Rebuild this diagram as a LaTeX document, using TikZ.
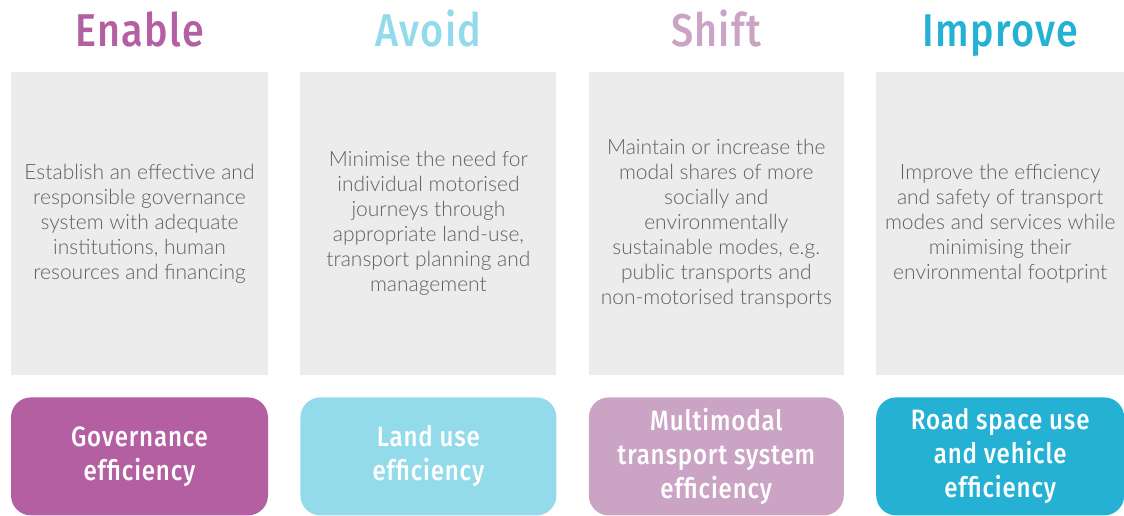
\documentclass[tikz,border=0pt]{standalone}
\usepackage{fontspec}
\usepackage{tikz}
\usetikzlibrary{positioning}
\newfontfamily\bodyfont{Lato Light}
\newfontfamily\headfont{Fira Sans Medium}[FakeStretch=0.86,LetterSpace=3]
\definecolor{enablec}{HTML}{B35FA2}
\definecolor{avoidc}{HTML}{93DBEB}
\definecolor{shiftc}{HTML}{CAA3C5}
\definecolor{improvec}{HTML}{24B1D3}
\definecolor{panelgray}{HTML}{ECECEC}
\definecolor{bodygray}{HTML}{606060}

\begin{document}
\begin{tikzpicture}[
    x=1pt,y=1pt,
    node distance=32pt,
    pillar/.style={fill=panelgray,minimum height=303pt,inner sep=0pt,align=center,text=bodygray,font=\bodyfont\fontsize{21}{25}\selectfont},
    head/.style={anchor=base,inner sep=0pt,font=\headfont\fontsize{46}{46}\selectfont},
    outcome/.style={rounded corners=20pt,minimum height=118pt,inner sep=0pt,align=center,text=white,font=\headfont\fontsize{28}{34}\selectfont}
]
    \useasboundingbox (0,0) rectangle (1124,516);
    \coordinate (headline) at (0,469);

    % grey pillars
    \node[pillar,minimum width=257pt] (pEnable) at (139.5,292.5) {Establish an effective and\\responsible governance\\system with adequate\\institutions, human\\resources and financing};
    \node[pillar,minimum width=256pt,right=of pEnable] (pAvoid) {Minimise the need for\\individual motorised\\journeys through\\appropriate land-use,\\transport planning and\\management};
    \node[pillar,minimum width=255pt,right=of pAvoid] (pShift) {Maintain or increase the\\modal shares of more\\socially and\\environmentally\\sustainable modes, e.g.\\public transports and\\non-motorised transports};
    \node[pillar,minimum width=248pt,right=of pShift] (pImprove) {Improve the efficiency\\and safety of transport\\modes and services while\\minimising their\\environmental footprint};

    % headings
    \node[head,text=enablec] (hEnable) at (pEnable.north |- headline) {Enable};
    \node[head,text=avoidc] (hAvoid) at (pAvoid.north |- headline) {Avoid};
    \node[head,text=shiftc] (hShift) at (pShift.north |- headline) {Shift};
    \node[head,text=improvec] (hImprove) at (pImprove.north |- headline) {Improve};

    % coloured outcome boxes
    \node[outcome,fill=enablec,minimum width=257pt,below=22pt of pEnable] (oEnable) {Governance\\efficiency};
    \node[outcome,fill=avoidc,minimum width=256pt,below=22pt of pAvoid] (oAvoid) {Land use\\efficiency};
    \node[outcome,fill=shiftc,minimum width=255pt,below=22pt of pShift] (oShift) {Multimodal\\transport system\\efficiency};
    \node[outcome,fill=improvec,minimum width=248pt,below=22pt of pImprove] (oImprove) {Road space use\\and vehicle\\efficiency};
\end{tikzpicture}
\end{document}
